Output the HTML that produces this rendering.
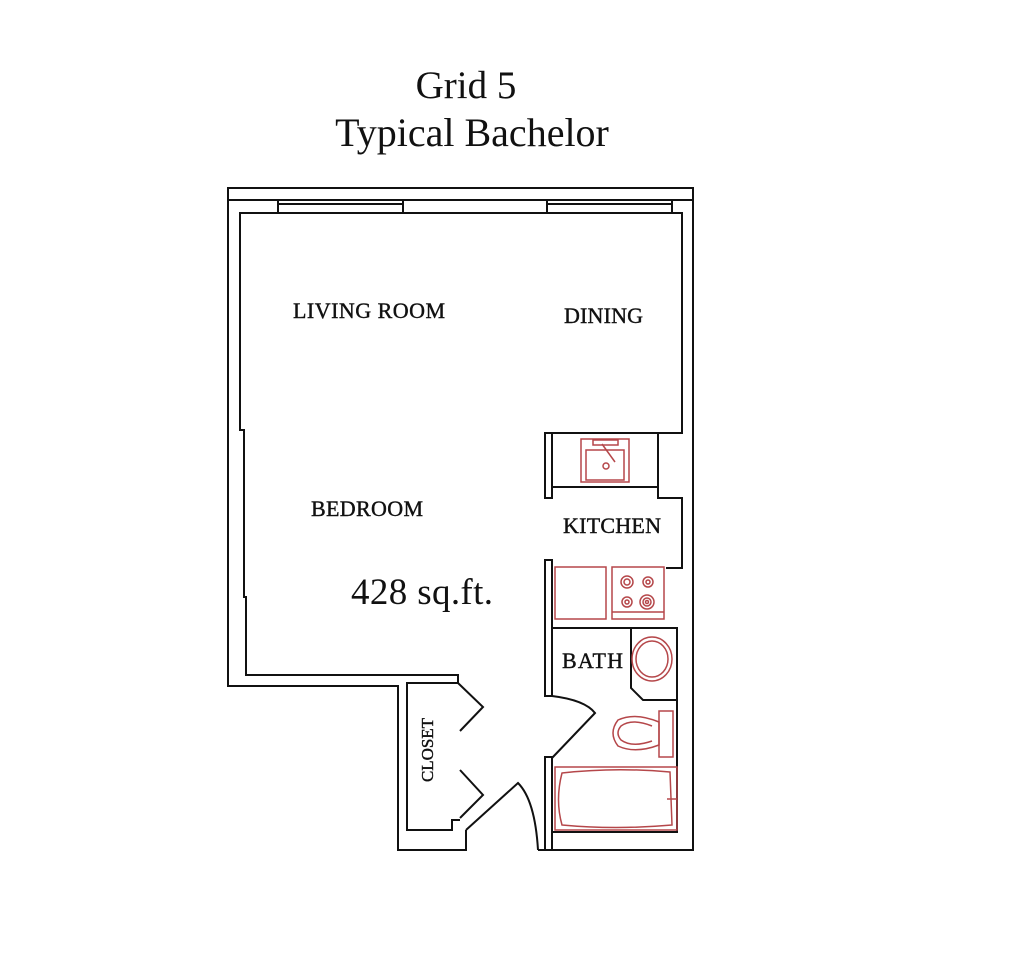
<!DOCTYPE html>
<html><head><style>
body{margin:0;background:#fff;}
svg{display:block;}
text{font-family:"Liberation Serif",serif;fill:#111;}
.lb{stroke:#111;stroke-width:0.4;}
</style></head><body>
<svg width="1024" height="961" viewBox="0 0 1024 961" xmlns="http://www.w3.org/2000/svg">
<text x="466" y="98" font-size="39" text-anchor="middle">Grid 5</text>
<text x="472" y="146" font-size="40" text-anchor="middle">Typical Bachelor</text>
<g fill="none" stroke="#111" stroke-width="2">
<rect x="228" y="188" width="465" height="12"/>
<polyline points="228,200 228,686 398,686 398,850 466,850 466,830"/>
<polyline points="693,200 693,850 538,850"/>
<rect x="278" y="200" width="125" height="13"/>
<line x1="278" y1="204" x2="403" y2="204"/>
<rect x="547" y="200" width="125" height="13"/>
<line x1="547" y1="204" x2="672" y2="204"/>
<polyline points="403,213 547,213"/>
<polyline points="278,213 240,213 240,430 244,430 244,597 246,597 246,675 458,675 458,683 407,683 407,830 452,830 452,820 460,820"/>
<polyline points="672,213 682,213 682,433 658,433 658,498 682,498 682,568 666,568"/>
<rect x="545" y="433" width="7" height="65"/>
<line x1="552" y1="433" x2="658" y2="433"/>
<line x1="552" y1="487" x2="658" y2="487"/>
<polyline points="552,696 545,696 545,560 552,560 552,696"/>
<polyline points="552,628 677,628 677,832 552,832"/>
<polyline points="631,628 631,688 643,700 677,700"/>
<rect x="545" y="757" width="7" height="93"/>
<line x1="552" y1="832" x2="552" y2="757"/>
<path d="M552,696 Q585,700 595,713 L552,758"/>
<polyline points="458,683 483,707 460,731"/>
<polyline points="460,770 483,795 460,818"/>
<path d="M538,850 Q535,800 518,783 L466,830"/>
</g>
<g fill="none" stroke="#b5474a" stroke-width="1.5">
<rect x="581" y="439" width="48" height="43"/>
<rect x="586" y="450" width="38" height="30"/>
<rect x="593" y="440" width="25" height="5"/>
<line x1="602" y1="444" x2="615" y2="462"/>
<circle cx="606" cy="466" r="3"/>
<rect x="555" y="567" width="51" height="52"/>
<rect x="612" y="567" width="52" height="52"/>
<line x1="612" y1="612" x2="664" y2="612"/>
<circle cx="627" cy="582" r="6"/><circle cx="627" cy="582" r="3"/>
<circle cx="648" cy="582" r="5"/><circle cx="648" cy="582" r="2"/>
<circle cx="627" cy="602" r="5"/><circle cx="627" cy="602" r="2"/>
<circle cx="647" cy="602" r="7"/><circle cx="647" cy="602" r="4"/><circle cx="647" cy="602" r="1.5"/>
<ellipse cx="652" cy="659" rx="20" ry="22"/>
<ellipse cx="652" cy="659" rx="16" ry="18"/>
<rect x="659" y="711" width="14" height="46"/>
<path d="M659,722 Q635,712 618,720 Q608,733 618,746 Q635,754 659,745 Z"/>
<path d="M652,726 Q632,718 621,726 Q615,733 621,740 Q632,748 652,741"/>
<rect x="555" y="767" width="122" height="63"/>
<path d="M562,773 Q615,767 670,772 L672,825 Q615,830 562,825 Q555,800 562,773 Z"/>
<line x1="667" y1="799" x2="677" y2="799"/>
</g>
<text class="lb" x="293" y="318" font-size="22" textLength="152">LIVING ROOM</text>
<text class="lb" x="564" y="323" font-size="22" textLength="79">DINING</text>
<text class="lb" x="311" y="516" font-size="22" textLength="112">BEDROOM</text>
<text class="lb" x="563" y="533" font-size="22" textLength="98">KITCHEN</text>
<text class="lb" x="562" y="668" font-size="22" textLength="61">BATH</text>
<text x="351" y="604" font-size="37" textLength="142">428 sq.ft.</text>
<text class="lb" x="0" y="0" font-size="17" transform="translate(433,782) rotate(-90)" textLength="64">CLOSET</text>
</svg>
</body></html>
